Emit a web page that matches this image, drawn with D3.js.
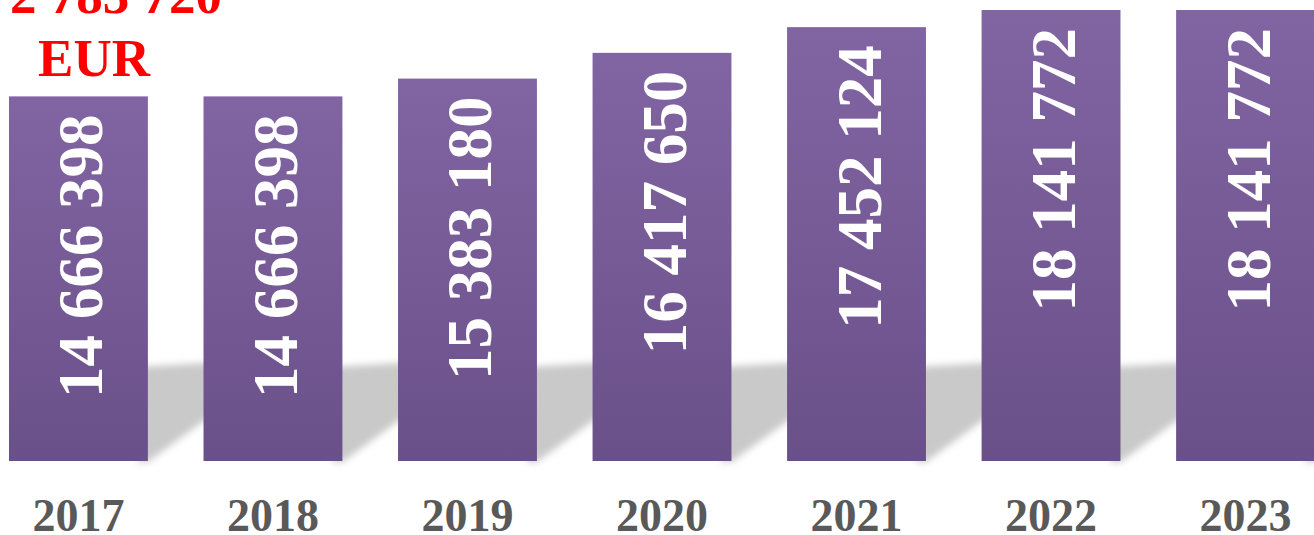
<!DOCTYPE html>
<html>
<head>
<meta charset="utf-8">
<script src="https://cdn.jsdelivr.net/npm/d3@7"></script>
<style>
  html, body { margin: 0; padding: 0; background: #ffffff; overflow: hidden; }
  svg { display: block; }
</style>
</head>
<body>
<svg id="chart" width="1314" height="535"></svg>
<script>
const years = ["2017", "2018", "2019", "2020", "2021", "2022", "2023"];
const values = [14666398, 14666398, 15383180, 16417650, 17452124, 18141772, 18141772];
const valueLabels = ["14 666 398", "14 666 398", "15 383 180", "16 417 650", "17 452 124", "18 141 772", "18 141 772"];
const noteLines = ["2 783 720", "EUR"];

const svg = d3.select("#chart");
const W = 1314, H = 535;
const baseY = 461;
const serif = "'Liberation Serif', 'Times New Roman', serif";

const x = d3.scaleBand().domain(years).range([9, 1314 + 9 - 1 + 0.5 + 0 ]).paddingInner(0.286).paddingOuter(0);
// adjust so bars span 9..1315
x.range([9, 1315]);
const y = d3.scaleLinear().domain([0, 18141772]).range([baseY, 10]);

const defs = svg.append("defs");
const grad = defs.append("linearGradient").attr("id", "barGrad")
  .attr("x1", 0).attr("y1", 0).attr("x2", 0).attr("y2", 1);
grad.append("stop").attr("offset", "0%").attr("stop-color", "#8165a3");
grad.append("stop").attr("offset", "100%").attr("stop-color", "#6a5089");

const blur = defs.append("filter").attr("id", "shadowBlur")
  .attr("x", "-20%").attr("y", "-20%").attr("width", "140%").attr("height", "140%");
blur.append("feGaussianBlur").attr("stdDeviation", 3.5);

// shadows
const bw = x.bandwidth();
svg.append("g").selectAll("path").data(years).join("path")
  .attr("d", d => {
    const xr = x(d) + bw;
    const pts = [[xr - 10, 367], [xr + 90, 361], [xr + 90, 396], [xr, baseY + 1], [xr - 10, baseY + 1]];
    return d3.line()(pts) + "Z";
  })
  .attr("fill", "#c9c9c9")
  .attr("filter", "url(#shadowBlur)");

// bars
svg.append("g").selectAll("rect").data(years).join("rect")
  .attr("x", d => x(d))
  .attr("y", (d, i) => y(values[i]))
  .attr("width", bw)
  .attr("height", (d, i) => baseY - y(values[i]))
  .attr("fill", "url(#barGrad)");

// value labels (rotated)
svg.append("g").selectAll("text").data(years).join("text")
  .attr("transform", (d, i) => `translate(${x(d) + bw / 2 + 24},${y(values[i]) + 18}) rotate(-90)`)
  .attr("text-anchor", "end")
  .attr("font-family", serif)
  .attr("font-weight", "bold")
  .attr("font-size", 63)
  .attr("fill", "#ffffff")
  .text((d, i) => valueLabels[i]);

// x axis labels
const xAxis = d3.axisBottom(x).tickSize(0).tickPadding(0);
const gx = svg.append("g").attr("transform", `translate(0,${baseY})`).call(xAxis);
gx.select(".domain").remove();
gx.selectAll("text")
  .attr("y", 70)
  .attr("dy", 0)
  .attr("font-family", serif)
  .attr("font-weight", "bold")
  .attr("font-size", 46)
  .attr("fill", "#595959");

// red note
svg.append("text")
  .attr("x", 116).attr("y", 13)
  .attr("text-anchor", "middle")
  .attr("font-family", serif).attr("font-weight", "bold").attr("font-size", 53)
  .attr("fill", "#ff0000")
  .text(noteLines[0]);
svg.append("text")
  .attr("x", 94).attr("y", 76)
  .attr("text-anchor", "middle")
  .attr("font-family", serif).attr("font-weight", "bold").attr("font-size", 53)
  .attr("fill", "#ff0000")
  .text(noteLines[1]);
</script>
</body>
</html>
